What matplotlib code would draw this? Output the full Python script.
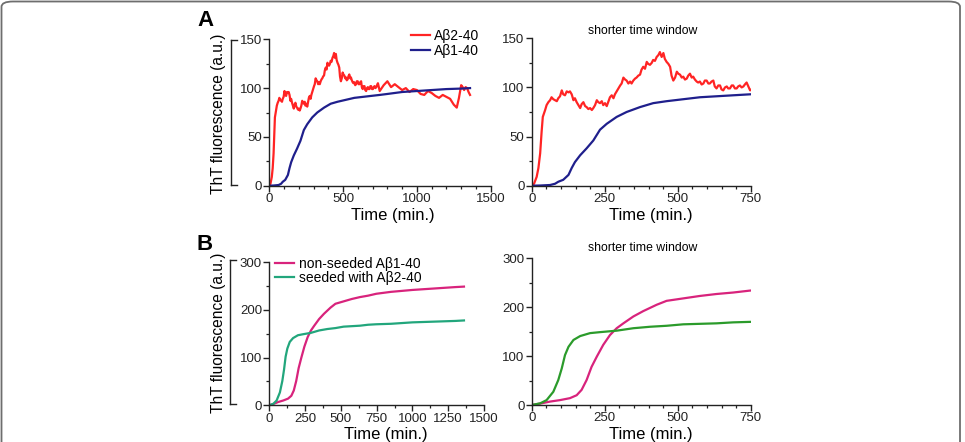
import matplotlib
matplotlib.use("Agg")
import matplotlib.pyplot as plt
from matplotlib.lines import Line2D
from matplotlib.patches import FancyBboxPatch
from matplotlib.ticker import MultipleLocator

plt.rcParams['font.family'] = ['Liberation Sans', 'DejaVu Sans']

# ---------------- data ----------------
# Panel A : Abeta2-40 (red, noisy) and Abeta1-40 (navy)
a2_t = [0, 8, 17, 23, 29, 34, 38, 46, 51, 57, 63, 68, 74, 80, 86, 91, 97, 103, 108, 114, 120,
        126, 131, 137, 143, 148, 154, 160, 166, 171, 177, 183, 188, 194, 200, 206, 211, 217,
        223, 228, 234, 240, 245, 251, 257, 262, 268, 274, 280, 285, 291, 297, 303, 308, 314,
        320, 325, 331, 337, 342, 348, 354, 359, 365, 371, 376, 382, 388, 394, 399, 405, 411,
        416, 422, 428, 434, 439, 445, 451, 456, 462, 468, 474, 479, 485, 491, 497, 502, 508,
        514, 519, 525, 531, 536, 542, 548, 553, 559, 565, 570, 576, 582, 588, 593, 599, 605,
        610, 616, 622, 627, 633, 639, 645, 650, 656, 662, 668, 673, 679, 685, 690, 696, 702,
        707, 713, 719, 725, 730, 736, 742, 748,
        775, 800, 825, 850, 875, 900, 925, 950, 975, 1000, 1025, 1050, 1075, 1100, 1125,
        1150, 1175, 1200, 1225, 1250, 1270, 1285, 1300, 1310, 1320, 1330, 1340, 1350, 1360]
a2_v = [0, 2, 9, 18, 33, 55, 70, 77, 82, 85, 87, 90, 88, 87, 86, 89, 91, 97, 93, 92, 96,
        95, 96, 93, 87, 89, 85, 82, 79, 83, 85, 81, 80, 78, 79, 77, 79, 82,
        87, 85, 84, 86, 82, 84, 81, 85, 90, 92, 89, 93, 96, 99, 102, 104, 110,
        108, 107, 104, 106, 104, 107, 109, 110, 112, 113, 118, 121, 119, 126, 124, 123, 125,
        128, 127, 131, 133, 136, 131, 135, 129, 126, 124, 121, 112, 107, 110, 116, 114, 113,
        110, 111, 108, 109, 112, 114, 110, 111, 108, 106, 105, 106, 103, 104, 107, 107, 104,
        104, 106, 107, 101, 99, 102, 102, 98, 97, 100, 101, 99, 99, 102, 102, 99, 99,
        101, 102, 100, 101, 103, 105, 101, 97,
        103, 107, 101, 104, 101, 98, 100, 96, 99, 98, 94, 93, 97, 95, 92,
        90, 93, 91, 89, 83, 80, 90, 103, 101, 98, 101, 100, 96, 93]

a1_t = [0, 30, 63, 80, 91, 108, 126, 137, 148, 166, 188, 211, 234, 257, 291, 325, 371, 416,
        462, 519, 576, 633, 690, 748, 800, 900, 1000, 1100, 1200, 1300, 1360]
a1_v = [0, 0.2, 0.7, 2, 4, 6, 11, 18, 24, 31, 38, 46, 57, 63, 70, 75, 80, 84,
        86, 88, 90, 91, 92, 93, 94, 96, 97, 98, 99, 99.5, 100]

# Panel B : non-seeded Abeta1-40 (pink) and seeded with Abeta2-40 (green)
ns_t = [0, 30, 63, 97, 131, 154, 171, 188, 205, 223, 245, 268, 291, 314, 348, 382, 428, 462,
        519, 576, 633, 690, 748, 850, 1000, 1100, 1200, 1300, 1360]
ns_v = [0, 3, 7, 10, 14, 20, 31, 51, 78, 99, 123, 143, 157, 167, 181, 192, 205, 213,
        218, 223, 227, 230, 234, 238, 242, 244, 246, 248, 249]

sd_t = [0, 29, 51, 74, 91, 103, 114, 126, 143, 166, 200, 234, 291, 348, 405, 462, 519, 576,
        633, 690, 748, 850, 1000, 1100, 1200, 1300, 1360]
sd_v = [0, 3.4, 10, 27, 51, 75, 102, 119, 133, 141, 147, 149, 152, 157, 160, 162, 165, 166,
        167, 169, 170, 171, 174, 175, 176, 177, 178]

legend_A = ["A\u03b22-40", "A\u03b21-40"]
legend_B = ["non-seeded A\u03b21-40", "seeded with A\u03b22-40"]

RED = "#ff2424"
NAVY = "#1f1f8c"
PINK = "#d8237c"
TEAL = "#22a67c"
GREEN = "#2b9b2b"

W, H = 965, 442
fig = plt.figure(figsize=(W / 100, H / 100), dpi=100)


def px_axes(x0, x1, y0, y1):
    return fig.add_axes([x0 / W, (H - y1) / H, (x1 - x0) / W, (y1 - y0) / H])


def fx(x):
    return x / W


def fy(y):
    return (H - y) / H


# border
border = FancyBboxPatch((fx(1.5), fy(470)), fx(960) - fx(1.5), fy(1.5) - fy(470),
                        boxstyle="round,pad=0,rounding_size=0.012",
                        transform=fig.transFigure, facecolor="white",
                        edgecolor="#6e6e6e", linewidth=1.3, zorder=-10)
fig.patches.append(border)


def style(ax, xmax, xmaj, xmin, ymax, ymaj, ymin):
    ax.set_xlim(0, xmax)
    ax.set_ylim(0, ymax)
    for s in ["top", "right"]:
        ax.spines[s].set_visible(False)
    for s in ["left", "bottom"]:
        ax.spines[s].set_linewidth(1.0)
        ax.spines[s].set_color("#222222")
    ax.xaxis.set_major_locator(MultipleLocator(xmaj))
    ax.xaxis.set_minor_locator(MultipleLocator(xmin))
    ax.yaxis.set_major_locator(MultipleLocator(ymaj))
    ax.yaxis.set_minor_locator(MultipleLocator(ymin))
    ax.tick_params(which="major", direction="out", length=4, width=1.0,
                   labelsize=9.5, pad=1.2, colors="#222222")
    ax.tick_params(which="minor", direction="out", length=2.5, width=0.9, colors="#222222")
    ax.patch.set_alpha(0)


axA1 = px_axes(269.3, 490.7, 39.3, 185.7)
axA2 = px_axes(531.7, 750.7, 38.3, 185.7)
axB1 = px_axes(269.3, 484.0, 262.3, 405.3)
axB2 = px_axes(531.7, 750.7, 258.3, 405.0)

style(axA1, 1500, 500, 100, 150, 50, 25)
style(axA2, 750, 250, 50, 150, 50, 25)
style(axB1, 1500, 250, 125, 300, 100, 50)
style(axB2, 750, 250, 50, 300, 100, 50)

lw = 1.6
axA1.plot(a2_t, a2_v, color=RED, lw=lw, label=legend_A[0])
axA1.plot(a1_t, a1_v, color=NAVY, lw=lw, label=legend_A[1])
axA2.plot(a2_t, a2_v, color=RED, lw=lw)
axA2.plot(a1_t, a1_v, color=NAVY, lw=lw)

axB1.plot(ns_t, ns_v, color=PINK, lw=lw, label=legend_B[0])
axB1.plot(sd_t, sd_v, color=TEAL, lw=lw, label=legend_B[1])
axB2.plot(ns_t, ns_v, color=PINK, lw=lw)
axB2.plot(sd_t, sd_v, color=GREEN, lw=lw)

axA1.legend(loc="upper left", bbox_to_anchor=((411 - 269.3) / 221.4, 1.07),
            frameon=False, fontsize=10, handlelength=1.4, handletextpad=0.25,
            labelspacing=0.05, borderaxespad=0, borderpad=0)
axB1.legend(loc="upper left", bbox_to_anchor=((275 - 269.3) / 214.7, 1.04),
            frameon=False, fontsize=10, handlelength=1.4, handletextpad=0.3,
            labelspacing=0.05, borderaxespad=0, borderpad=0)

# titles
fig.text(fx(643), fy(31), "shorter time window", ha="center", va="center", fontsize=8.8)
fig.text(fx(643), fy(248), "shorter time window", ha="center", va="center", fontsize=8.8)

# x labels
for xc, yc in [(393, 215), (651, 215), (386, 434), (651, 434)]:
    fig.text(fx(xc), fy(yc), "Time (min.)", ha="center", va="center", fontsize=12)

# y labels
fig.text(fx(218), fy(114), "ThT fluorescence (a.u.)", rotation=90,
         ha="center", va="center", fontsize=11.2)
fig.text(fx(218), fy(333), "ThT fluorescence (a.u.)", rotation=90,
         ha="center", va="center", fontsize=11.2)

# brackets
for (xb, yt, yb) in [(231, 40, 185), (230, 260, 404)]:
    for seg in [((xb, xb), (yt, yb)), ((xb, xb + 6), (yt, yt)), ((xb, xb + 6), (yb, yb))]:
        fig.add_artist(Line2D([fx(v) for v in seg[0]], [fy(v) for v in seg[1]],
                              transform=fig.transFigure, color="#222222", lw=1.0))

# panel letters
fig.text(fx(205), fy(20), "A", ha="center", va="center", fontsize=16, fontweight="bold")
fig.text(fx(205), fy(245), "B", ha="center", va="center", fontsize=16, fontweight="bold")

fig.savefig("out.png", dpi=100, facecolor="white")
